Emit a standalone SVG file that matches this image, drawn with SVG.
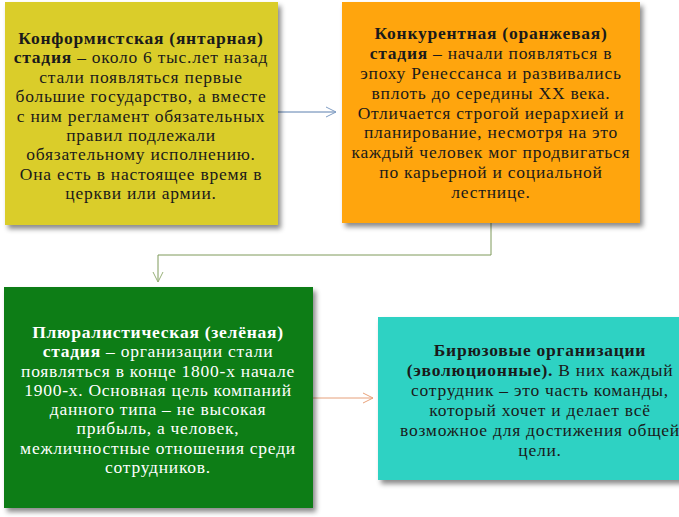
<svg xmlns="http://www.w3.org/2000/svg" width="679" height="517" viewBox="0 0 679 517">
<style>
text{font-family:"Liberation Serif","Times New Roman",serif;font-size:17.5px;letter-spacing:0.75px;text-anchor:middle;fill:#1a1a1a}
.w{fill:#ffffff}
.b{font-weight:bold}
.conn{fill:none;stroke-width:1}
</style>
<defs>
<filter id="sh" x="-10%" y="-10%" width="125%" height="125%">
<feDropShadow dx="3" dy="4" stdDeviation="2.5" flood-color="#000" flood-opacity="0.45"/>
</filter>
<marker id="aBlue" viewBox="0 0 12 12" refX="11" refY="6" markerWidth="12" markerHeight="12" markerUnits="userSpaceOnUse" orient="auto"><path d="M1,1 L11,6 L1,11" fill="none" stroke="#7f9dc4" stroke-width="1"/></marker>
<marker id="aGreen" viewBox="0 0 12 12" refX="11" refY="6" markerWidth="12" markerHeight="12" markerUnits="userSpaceOnUse" orient="auto"><path d="M1,1 L11,6 L1,11" fill="none" stroke="#98b178" stroke-width="1"/></marker>
<marker id="aOrange" viewBox="0 0 12 12" refX="11" refY="6" markerWidth="12" markerHeight="12" markerUnits="userSpaceOnUse" orient="auto"><path d="M1,1 L11,6 L1,11" fill="none" stroke="#e9a27a" stroke-width="1"/></marker>
</defs>
<rect width="679" height="517" fill="#ffffff"/>
<g id="connectors">
<path class="conn" d="M278,112 L336,112" stroke="#5b7fae" marker-end="url(#aBlue)"/>
<path class="conn" d="M491,223 L491,255 L158,255 L158,282" stroke="#7f9a5a" marker-end="url(#aGreen)"/>
<path class="conn" d="M313,398 L373,398" stroke="#e6a07a" marker-end="url(#aOrange)"/>
</g>
<g id="amber">
<rect x="5" y="2" width="273" height="223" fill="#dacd2c" filter="url(#sh)"/>
<text x="141" y="44"><tspan class="b">Конформистская (янтарная)</tspan></text>
<text x="141" y="63.4"><tspan class="b">стадия</tspan> – около 6 тыс.лет назад</text>
<text x="141" y="82.8">стали появляться первые</text>
<text x="141" y="102.1">большие государство, а вместе</text>
<text x="141" y="121.5">с ним регламент обязательных</text>
<text x="141" y="140.9">правил подлежали</text>
<text x="141" y="160.3">обязательному исполнению.</text>
<text x="141" y="179.6">Она есть в настоящее время в</text>
<text x="141" y="199">церкви или армии.</text>
</g>
<g id="orange">
<rect x="342" y="2" width="298" height="221" fill="#ffa50a" filter="url(#sh)"/>
<text x="491" y="39"><tspan class="b">Конкурентная (оранжевая)</tspan></text>
<text x="491" y="58.9"><tspan class="b">стадия</tspan> – начали появляться в</text>
<text x="491" y="78.8">эпоху Ренессанса и развивались</text>
<text x="491" y="98.6">вплоть до середины XX века.</text>
<text x="491" y="118.5">Отличается строгой иерархией и</text>
<text x="491" y="138.4">планирование, несмотря на это</text>
<text x="491" y="158.3">каждый человек мог продвигаться</text>
<text x="491" y="178.1">по карьерной и социальной</text>
<text x="491" y="198">лестнице.</text>
</g>
<g id="green">
<rect x="4" y="287" width="309" height="221" fill="#0a7d14" filter="url(#sh)"/>
<text class="w" x="158" y="338"><tspan class="b">Плюралистическая (зелёная)</tspan></text>
<text class="w" x="158" y="357.3"><tspan class="b">стадия</tspan> – организации стали</text>
<text class="w" x="158" y="376.6">появляться в конце 1800-х начале</text>
<text class="w" x="158" y="395.9">1900-х. Основная цель компаний</text>
<text class="w" x="158" y="415.1">данного типа – не высокая</text>
<text class="w" x="158" y="434.4">прибыль, а человек,</text>
<text class="w" x="158" y="453.7">межличностные отношения среди</text>
<text class="w" x="158" y="473">сотрудников.</text>
</g>
<g id="teal">
<rect x="378" y="317" width="310" height="163" fill="#2fd2c3" filter="url(#sh)"/>
<text x="540" y="356"><tspan class="b">Бирюзовые организации</tspan></text>
<text x="540" y="376"><tspan class="b">(эволюционные).</tspan> В них каждый</text>
<text x="540" y="396">сотрудник – это часть команды,</text>
<text x="540" y="416">который хочет и делает всё</text>
<text x="540" y="436">возможное для достижения общей</text>
<text x="540" y="456">цели.</text>
</g>
</svg>
